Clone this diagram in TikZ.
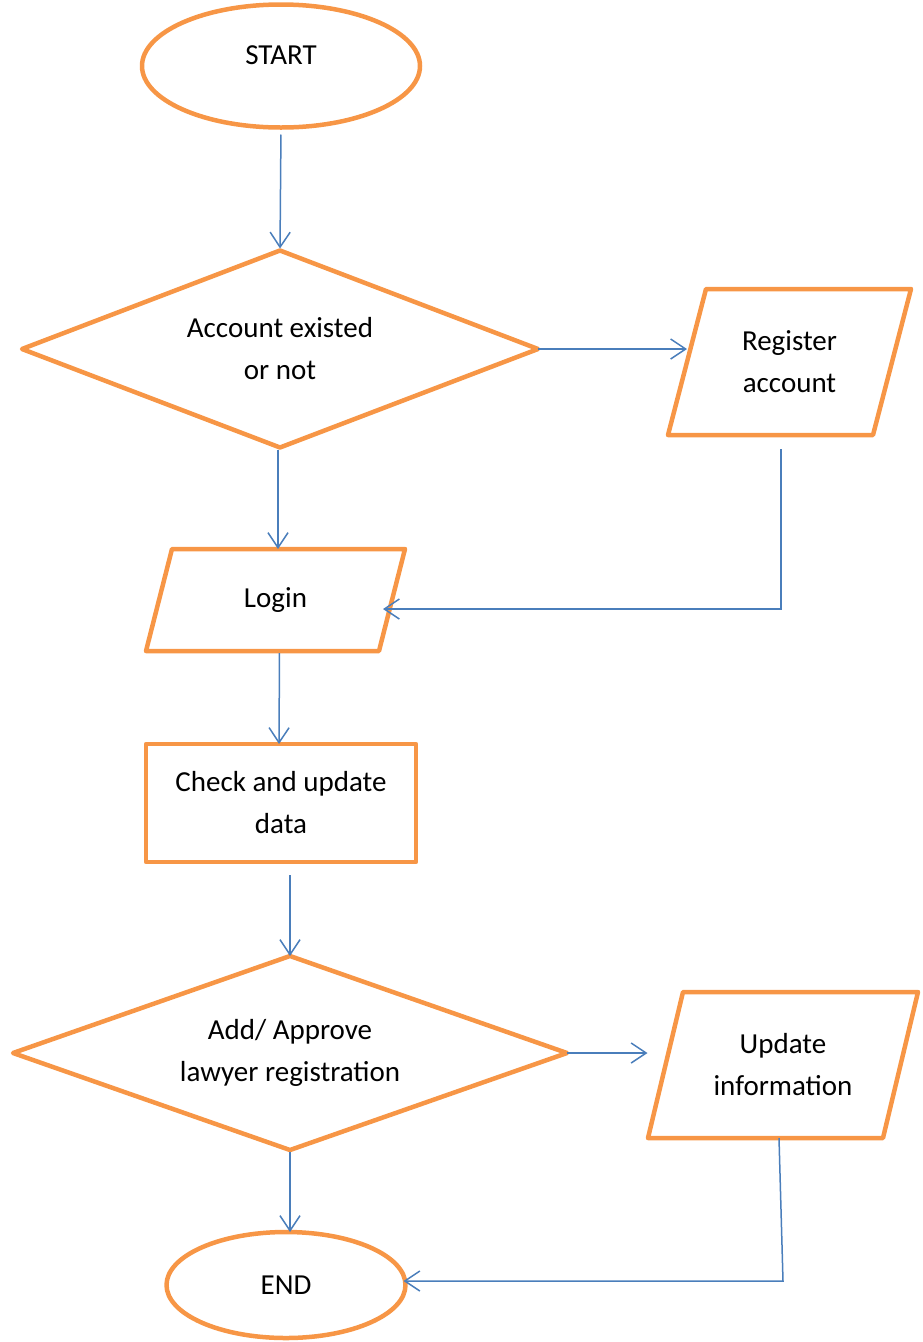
\documentclass[tikz,border=0pt]{standalone}
\usepackage{fontspec}
\setmainfont{Carlito}
\usepackage{tikz}
\usetikzlibrary{shapes.geometric}
\usetikzlibrary{arrows.meta}
\definecolor{boxorange}{HTML}{F79646}
\definecolor{lineblue}{HTML}{4A7EBB}
\tikzset{
  boxline/.style={draw=boxorange, line width=4.5pt, line join=round},
  term/.style={ellipse, boxline, inner sep=0pt, outer sep=0pt},
  decide/.style={diamond, boxline, inner sep=0pt, outer sep=0pt, align=center},
  iotext/.style={rectangle, inner sep=0pt, outer sep=0pt, align=center},
  proc/.style={rectangle, boxline, inner sep=0pt, outer sep=0pt, align=center},
  arr/.style={draw=lineblue, line width=1.5pt, -{Straight Barb[length=15pt,width=20pt]}},
}
\newcommand{\iobox}[6]{
  \node[iotext, minimum width=#3, minimum height=#4] (#1) at (#2) {#6};
  \draw[boxline] ([xshift=#5pt]#1.north west) -- ([xshift=#5pt]#1.north east)
    -- ([xshift=-#5pt]#1.south east) -- ([xshift=-#5pt]#1.south west) -- cycle;
}

\begin{document}
\begin{tikzpicture}[x=1pt, y=-1pt, font=\fontsize{29}{42}\selectfont]
      \useasboundingbox (0,0) rectangle (922,1342);
      \node[term, minimum width=278pt, minimum height=123pt,
        label={[yshift=11pt]center:START}] (start) at (281,66) {};
      \node[decide, aspect=2.62, minimum width=516pt, minimum height=197pt] (exist) at (280,349) {Account existed\\or not};
      \iobox{register}{789.5,362}{205pt}{146pt}{19}{Register\\account}
      \iobox{login}{275.5,600}{233pt}{102pt}{13}{Login}
      \node[proc, minimum width=270pt, minimum height=118pt] (check) at (281,803) {Check and update\\data};
      \node[decide, aspect=2.86, minimum width=554pt, minimum height=194pt] (approve) at (290,1053) {Add/ Approve\\lawyer registration};
      \iobox{update}{783,1065}{235pt}{146pt}{17.5}{Update\\information}
      \node[term, minimum width=239pt, minimum height=106pt] (endn) at (286,1285) {END};
      \coordinate (corner) at (783,1281);

      \draw[arr, shorten <=7pt, shorten >=2pt] (start.south) -- (exist.north);
      \draw[arr] (exist.east) -- (exist.east -| register.west);
      \draw[arr, shorten <=2pt] ([xshift=-2pt]exist.south) -- ([xshift=-2pt]exist.south |- login.north);
      \draw[arr, shorten <=14pt, shorten >=-9pt] ([xshift=-8.5pt]register.south) |- ([yshift=-9pt]login.east);
      \draw[arr, shorten <=2pt] ([xshift=4pt]login.south) -- ([xshift=-2pt]check.north);
      \draw[arr, shorten <=13pt] ([xshift=9pt]check.south) -- (approve.north);
      \draw[arr, shorten >=18pt] (approve.east) -- (approve.east -| update.west);
      \draw[arr, shorten <=2pt] (approve.south) -- ([xshift=4pt]endn.north);
      \draw[arr, shorten >=-2pt] ([xshift=-4pt]update.south) -- (corner) -- (endn.east |- corner);
  \end{tikzpicture}
\end{document}
